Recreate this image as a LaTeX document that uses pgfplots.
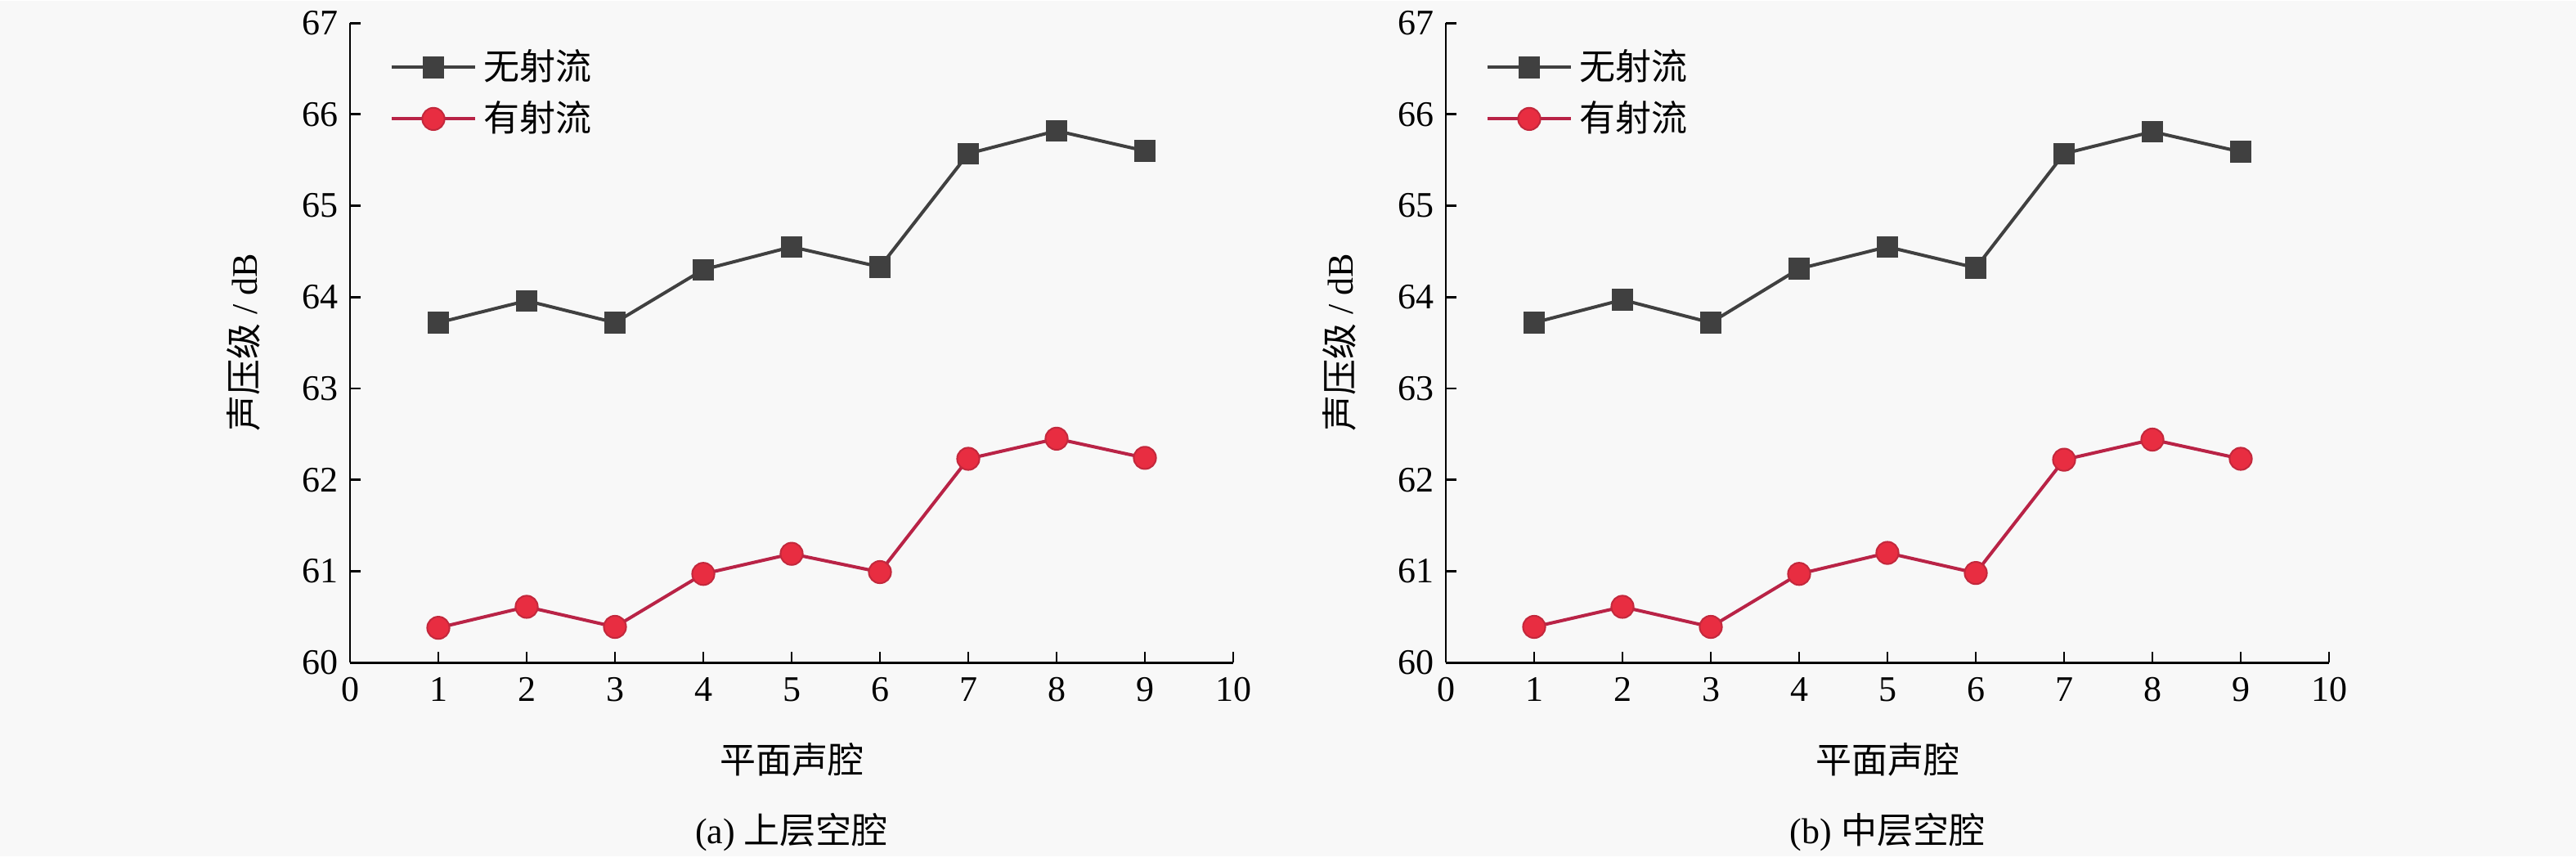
\documentclass[border=0pt]{standalone}
\usepackage{fontspec}
\setmainfont{Liberation Serif}
\newfontfamily\cjk{Noto Sans CJK SC}
\usepackage{pgfplots}
\pgfplotsset{compat=1.18}
\definecolor{bg}{RGB}{248,248,248}
\definecolor{darkg}{RGB}{64,64,64}
\definecolor{redline}{RGB}{185,35,70}
\definecolor{redfill}{RGB}{232,45,65}
\definecolor{rededge}{RGB}{195,40,60}
\pgfplotsset{
  mystyle/.style={
    scale only axis, width=270pt, height=195.5pt,
    axis x line=bottom, axis y line=left,
    axis line style={-, line width=0.7pt, black},
    xmin=0, xmax=10, ymin=60, ymax=67,
    xtick={0,...,10}, ytick={60,...,67},
    tick align=inside, major tick length=3.2pt,
    tick style={line width=0.7pt, black},
    font=\fontsize{11}{13}\selectfont,
    /pgf/number format/assume math mode=true,
    xticklabel style={yshift=-1pt},
    xlabel={{\cjk 平面声腔}},
    xlabel style={at={(axis description cs:0.5,0)}, anchor=center, yshift=-29.75pt},
    ylabel={{\cjk 声压级} / dB},
    ylabel style={at={(axis description cs:0,0.5)}, anchor=center, yshift=32.5pt},
    legend cell align=left,
    legend style={at={(axis description cs:0,1)}, anchor=north west, xshift=12pt, yshift=-6pt,
      draw=none, fill=none, inner sep=0pt, row sep=1pt, font=\fontsize{11}{13}\selectfont\cjk},
    legend image code/.code={\draw[mark repeat=2,mark phase=2] plot coordinates {(0cm,0cm)(0.45cm,0cm)(0.9cm,0cm)};},
    clip=false,
  },
  s1/.style={darkg, line width=1pt, mark=square*, mark size=3.1pt, mark options={fill=darkg, draw=darkg, line width=0.4pt}},
  s2/.style={redline, line width=1pt, mark=*, mark size=3.4pt, mark options={fill=redfill, draw=rededge, line width=0.5pt}},
}
\begin{document}
\begin{tikzpicture}
\fill[bg] (0,0) rectangle (787.5pt,261.5pt);
\begin{axis}[mystyle, at={(107pt,59.25pt)}, anchor=south west]
\addplot[s1] coordinates {(1,63.72) (2,63.96) (3,63.72) (4,64.30) (5,64.55) (6,64.33) (7,65.57) (8,65.82) (9,65.60)};
\addlegendentry{无射流}
\addplot[s2] coordinates {(1,60.38) (2,60.61) (3,60.39) (4,60.97) (5,61.19) (6,60.99) (7,62.23) (8,62.45) (9,62.24)};
\addlegendentry{有射流}
\node[anchor=center, font=\fontsize{11}{13}\selectfont] at (axis description cs:0.5,0) [yshift=-51.75pt] {(a) {\cjk 上层空腔}};
\end{axis}
\begin{axis}[mystyle, at={(442pt,59.25pt)}, anchor=south west]
\addplot[s1] coordinates {(1,63.72) (2,63.97) (3,63.72) (4,64.31) (5,64.55) (6,64.32) (7,65.57) (8,65.81) (9,65.59)};
\addlegendentry{无射流}
\addplot[s2] coordinates {(1,60.39) (2,60.61) (3,60.39) (4,60.97) (5,61.20) (6,60.98) (7,62.22) (8,62.44) (9,62.23)};
\addlegendentry{有射流}
\node[anchor=center, font=\fontsize{11}{13}\selectfont] at (axis description cs:0.5,0) [yshift=-51.75pt] {(b) {\cjk 中层空腔}};
\end{axis}
\end{tikzpicture}
\end{document}
